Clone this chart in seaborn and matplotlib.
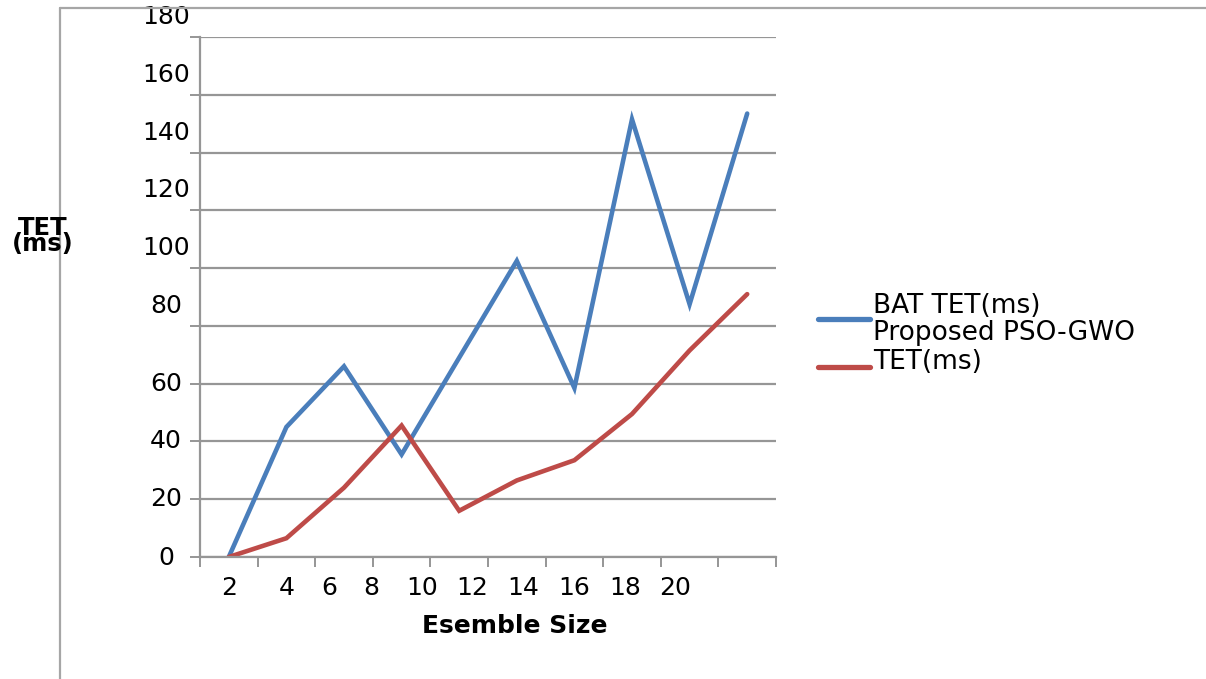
import matplotlib
matplotlib.use("Agg")
import matplotlib.pyplot as plt
from matplotlib.lines import Line2D
import seaborn as sns
import pandas as pd

# Ensemble sizes and total execution time (ms) per method
sizes = [2, 4, 6, 8, 10, 12, 14, 16, 18, 20]
bat_tet = [0, 45, 66, 35.5, 69, 102.5, 58.5, 151.5, 87.5, 153.5]
pso_gwo_tet = [0, 6.5, 24, 45.5, 16, 26.5, 33.5, 49.5, 71.5, 91]
series_names = ["BAT TET(ms)", "Proposed PSO-GWO\nTET(ms)"]
y_ticks = [0, 20, 40, 60, 80, 100, 120, 140, 160, 180]

# where the size labels sit along the category axis
x_label_pos = [0, 1.0, 1.74, 2.48, 3.35, 4.23, 5.11, 6.0, 6.89, 7.75]

BLUE = "#4a7ebb"
RED = "#be4b48"
GRID = "#969696"
FRAME = "#a6a6a6"

sns.set_theme(style="white")
plt.rcParams["font.family"] = ["DejaVu Sans"]
plt.rcParams["text.color"] = "black"
plt.rcParams["xtick.color"] = "black"
plt.rcParams["ytick.color"] = "black"
plt.rcParams["axes.labelcolor"] = "black"

df = pd.DataFrame({
    "size": [str(s) for s in sizes] * 2,
    "tet": bat_tet + pso_gwo_tet,
    "series": [series_names[0]] * len(sizes) + [series_names[1]] * len(sizes),
})

W, H = 1206, 679
fig = plt.figure(figsize=(W / 100, H / 100), dpi=100)
ax = fig.add_axes([200 / W, 1 - 557 / H, 576 / W, 520 / H])

sns.lineplot(data=df, x="size", y="tet", hue="series", hue_order=series_names,
             palette=[BLUE, RED], linewidth=3.3, sort=False, ax=ax,
             solid_capstyle="round", solid_joinstyle="miter")

n = len(sizes)
ax.set_xlim(-0.5, n - 0.5)
ax.set_ylim(0, 180)

# horizontal gridlines
ax.set_yticks(y_ticks)
ax.set_yticklabels([])
ax.yaxis.grid(True, color=GRID, linewidth=1.6)
ax.xaxis.grid(False)
ax.set_axisbelow(True)

# category boundary ticks and offset size labels
ax.set_xticks([i - 0.5 for i in range(n + 1)])
ax.set_xticklabels([])
ax.set_xticks(x_label_pos, minor=True)
ax.set_xticklabels([str(s) for s in sizes], minor=True, fontsize=18)
ax.tick_params(axis="x", which="minor", length=0, pad=14, labelcolor="black")
ax.tick_params(axis="both", which="major", direction="out", length=7.2,
               width=1.4, color=GRID, bottom=True, left=True)

for side in ("top", "right"):
    ax.spines[side].set_visible(False)
for side in ("left", "bottom"):
    ax.spines[side].set_color(GRID)
    ax.spines[side].set_linewidth(1.6)

ax.set_xlabel("")
ax.set_ylabel("")

# value labels for the y axis
for v in y_ticks:
    dy = 14.4 if v >= 80 else (-1.0 if v == 0 else 0)
    ax.annotate(str(v), xy=(0, v), xycoords=("axes fraction", "data"),
                xytext=(-24.5, dy), textcoords="offset points",
                ha="center", va="center", fontsize=18, color="black",
                annotation_clip=False)

# legend
old = ax.get_legend()
handles = old.legend_handles
old.remove()
leg = ax.legend(handles, series_names, loc="upper left",
                bbox_to_anchor=(818 / W, 1 - 293 / H), bbox_transform=fig.transFigure,
                frameon=False, fontsize=19, borderpad=0, borderaxespad=0,
                handlelength=1.97, handletextpad=0.12, labelspacing=0.05)
for t in leg.get_texts():
    t.set_linespacing(1.15)
    t.set_color("black")
for h, shift in zip(leg.legend_handles, [-10.8, -13.0]):
    h.set_linewidth(3.8)
    yd = h.get_ydata()
    h.set_ydata([y + shift for y in yd])

# axis titles
fig.text(515 / W, 1 - 626 / H, "Esemble Size", ha="center", va="center",
         fontsize=18, fontweight="bold", color="black")
fig.text(43 / W, 1 - 236 / H, "TET\n(ms)", ha="center", va="center",
         fontsize=17.5, fontweight="bold", linespacing=0.55, color="black")

# outer chart frame
fig.add_artist(Line2D([60 / W, 60 / W], [1 - 8 / H, 0], transform=fig.transFigure,
                      color=FRAME, linewidth=1.6))
fig.add_artist(Line2D([60 / W, 1], [1 - 8 / H, 1 - 8 / H], transform=fig.transFigure,
                      color=FRAME, linewidth=1.6))

fig.savefig("out.png", dpi=100)
